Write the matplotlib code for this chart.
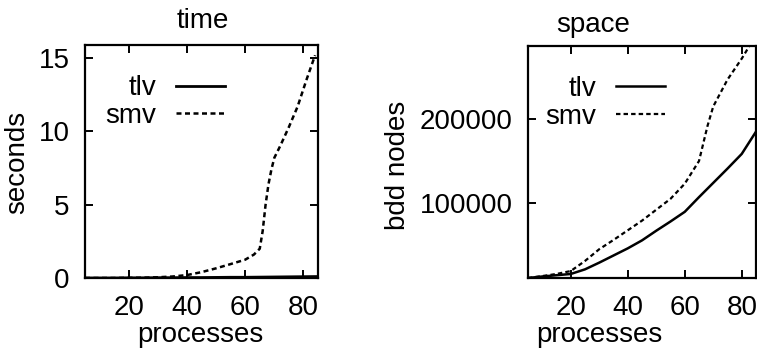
import matplotlib
matplotlib.use("Agg")
import matplotlib.pyplot as plt

plt.rcParams['font.family'] = ['Liberation Sans', 'DejaVu Sans']

# time (seconds)
time_x = [5, 10, 15, 20, 25, 30, 35, 40, 45, 50, 55, 60, 65, 70, 75, 80, 85]
time_tlv = [0, 0, 0, 0.01, 0.01, 0.02, 0.02, 0.03, 0.03, 0.04, 0.05, 0.05, 0.06, 0.07, 0.08, 0.09, 0.1]
time_smv_x = [5, 10, 15, 20, 25, 30, 35, 40, 45, 50, 55, 60, 63, 65, 66, 67, 68, 69, 70, 72, 75, 78, 81, 84]
time_smv = [0, 0, 0, 0.01, 0.02, 0.05, 0.1, 0.2, 0.4, 0.66, 0.95, 1.25, 1.6, 2.0, 3.2, 5.0, 6.4, 7.4, 8.2,
            9.0, 10.3, 11.7, 13.5, 15.2]

# space (bdd nodes)
space_x = [5, 10, 15, 20, 25, 30, 35, 40, 45, 50, 55, 60, 65, 70, 75, 80, 85]
space_tlv = [10700, 12500, 14000, 15500, 21000, 29000, 37500, 46000, 55500, 67000, 78000, 89500,
             107000, 124000, 141000, 158500, 185000]
space_smv_x = [5, 10, 15, 20, 25, 30, 35, 40, 45, 50, 55, 60, 65, 68, 70, 75, 80, 85]
space_smv = [10700, 13000, 15500, 19000, 31000, 45000, 56000, 67500, 79000, 92000, 105000, 123000,
             150000, 192000, 215000, 247000, 272000, 300000]

W, H = 757, 349
fig = plt.figure(figsize=(W / 100, H / 100), dpi=100)

fs = 20


def make_axes(left, right, top, bottom):
    ax = fig.add_axes([left / W, 1 - bottom / H, (right - left) / W, (bottom - top) / H])
    for s in ax.spines.values():
        s.set_linewidth(1.6)
    ax.tick_params(direction='in', length=6, width=1.4, top=True, right=True,
                   labelsize=fs)
    ax.tick_params(axis='x', pad=12)
    ax.tick_params(axis='y', pad=11)
    return ax


def key(ax, handles):
    # gnuplot style key: label first, then the line sample
    ax.legend(handles=handles, loc='upper right', bbox_to_anchor=(0.60, 0.87), frameon=False,
              markerfirst=False, fontsize=fs, handlelength=1.75, handletextpad=0.72,
              labelspacing=0.06, borderpad=0, borderaxespad=0)


# left plot - time
ax1 = make_axes(85, 318, 45, 278)
l1, = ax1.plot(time_x, time_tlv, color='black', lw=2.0, label='tlv')
l2, = ax1.plot(time_smv_x, time_smv, color='black', lw=1.8, dashes=(2, 1.4), label='smv')
ax1.set_xlim(5, 85)
ax1.set_ylim(0, 15.9)
ax1.set_xticks([20, 40, 60, 80])
ax1.set_yticks([0, 5, 10, 15])
ax1.set_title('time', fontsize=fs, x=0.506, y=1.0, pad=12)
ax1.set_xlabel('processes', fontsize=fs, va='center')
ax1.xaxis.set_label_coords(0.495, -0.245)
ax1.set_ylabel('seconds', fontsize=fs, va='center')
ax1.yaxis.set_label_coords(-0.292, 0.494)
key(ax1, [l1, l2])

# right plot - space
ax2 = make_axes(528, 756, 46, 278)
r1, = ax2.plot(space_x, space_tlv, color='black', lw=1.8, label='tlv')
r2, = ax2.plot(space_smv_x, space_smv, color='black', lw=1.6, dashes=(2, 1.4), label='smv')
ax2.set_xlim(5, 85)
ax2.set_ylim(10700, 287000)
ax2.set_xticks([20, 40, 60, 80])
ax2.set_yticks([100000, 200000])
ax2.set_title('space', fontsize=fs, x=0.284, y=1.0, pad=10)
ax2.set_xlabel('processes', fontsize=fs, va='center')
ax2.xaxis.set_label_coords(0.314, -0.245)
ax2.set_ylabel('bdd nodes', fontsize=fs, va='center')
ax2.yaxis.set_label_coords(-0.572, 0.485)
key(ax2, [r1, r2])

plt.savefig('out.png', dpi=100)
